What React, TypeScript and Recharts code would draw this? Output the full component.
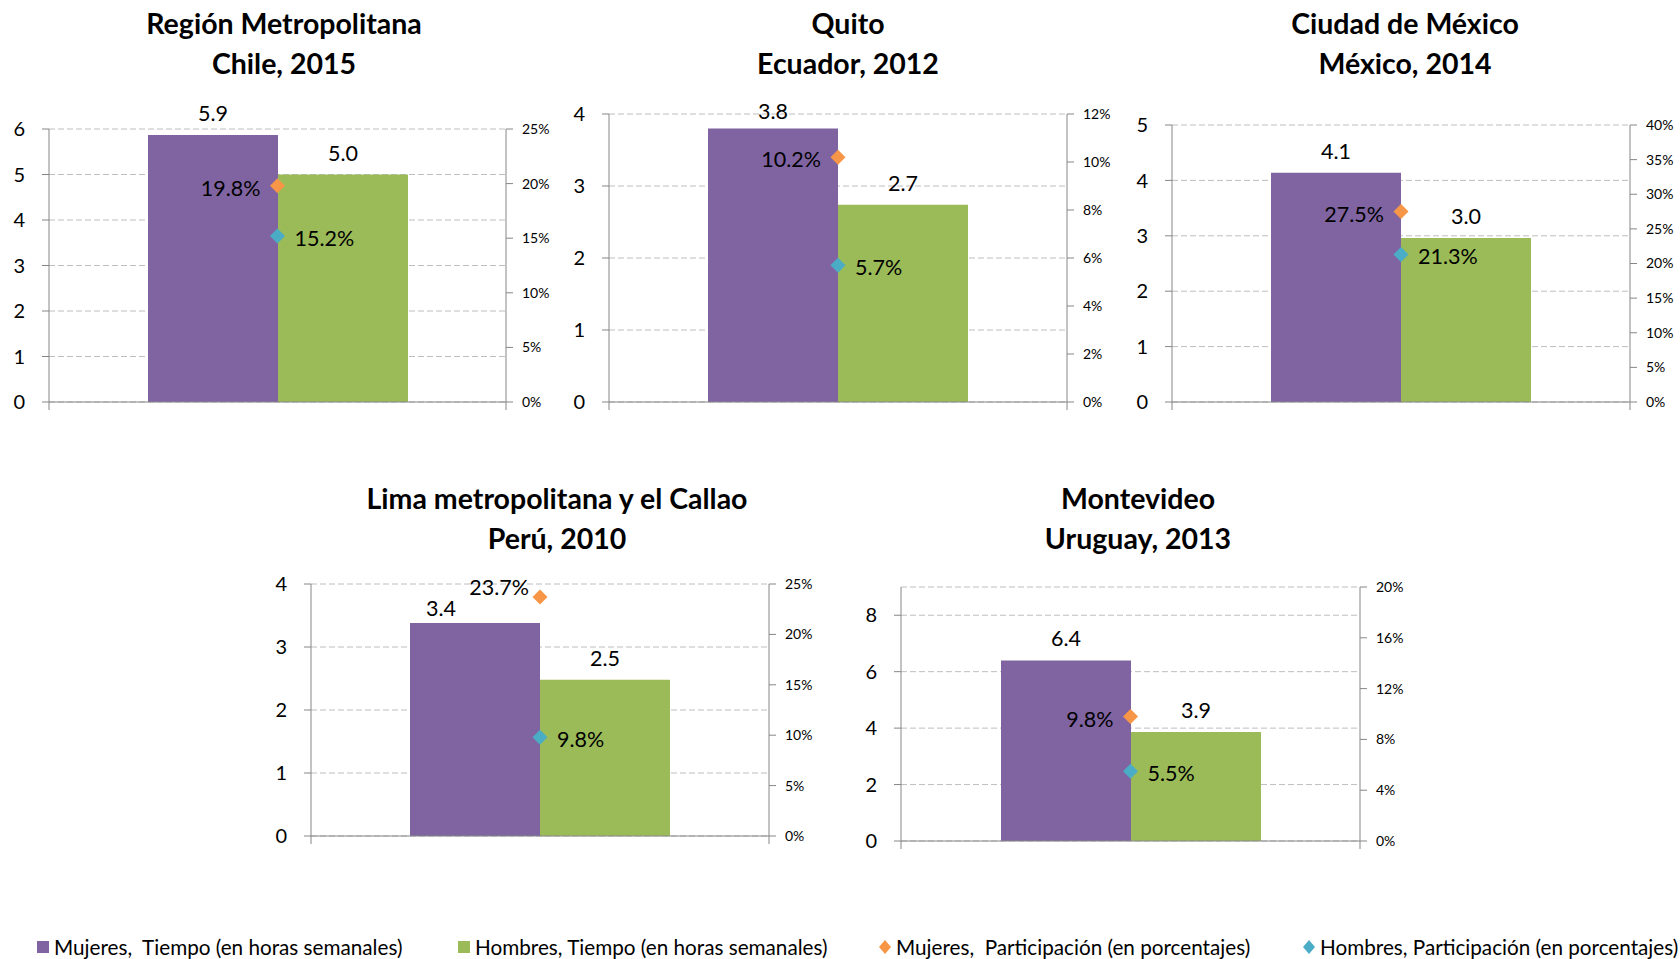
import React from 'react'
import { Bar, ComposedChart, Line, XAxis, YAxis, CartesianGrid, LabelList } from 'recharts'

const regiones = ['Región Metropolitana', 'Quito', 'Ciudad de México', 'Lima metropolitana y el Callao', 'Montevideo']
const paisAnio = ['Chile, 2015', 'Ecuador, 2012', 'México, 2014', 'Perú, 2010', 'Uruguay, 2013']

// horas semanales
const tiempoMujeres = [5.87, 3.8, 4.14, 3.38, 6.4]
const tiempoHombres = [5.0, 2.74, 2.96, 2.48, 3.86]
// porcentajes
const partMujeres = [19.8, 10.2, 27.5, 23.7, 9.8]
const partHombres = [15.2, 5.7, 21.3, 9.8, 5.5]

const tiempoMax = [6, 4, 5, 4, 9]
const tiempoTicks = [
  [0, 1, 2, 3, 4, 5, 6],
  [0, 1, 2, 3, 4],
  [0, 1, 2, 3, 4, 5],
  [0, 1, 2, 3, 4],
  [0, 2, 4, 6, 8],
]
const partMax = [25, 12, 40, 25, 20]
const partTicks = [
  [0, 5, 10, 15, 20, 25],
  [0, 2, 4, 6, 8, 10, 12],
  [0, 5, 10, 15, 20, 25, 30, 35, 40],
  [0, 5, 10, 15, 20, 25],
  [0, 4, 8, 12, 16, 20],
]

const leyenda = [
  'Mujeres,  Tiempo (en horas semanales)',
  'Hombres, Tiempo (en horas semanales)',
  'Mujeres,  Participación (en porcentajes)',
  'Hombres, Participación (en porcentajes)',
]

const MORADO = '#8064A2'
const VERDE = '#9BBB59'
const NARANJA = '#F79646'
const CELESTE = '#4BACC6'
const EJE = '#868686'
const FONT = 'Lato, "Open Sans", sans-serif'

// posiciones de cada panel en la pagina
const paneles = [
  { x0: 49, x1: 506, yTop: 129, yZero: 402, tx: 284, ty: 4 },
  { x0: 609, x1: 1067, yTop: 114, yZero: 402, tx: 848, ty: 4 },
  { x0: 1172, x1: 1630, yTop: 125, yZero: 402, tx: 1405, ty: 4 },
  { x0: 311, x1: 769, yTop: 584, yZero: 836, tx: 557, ty: 479 },
  { x0: 901, x1: 1360, yTop: 587, yZero: 841, tx: 1138, ty: 479 },
]
// ajustes manuales de etiquetas
const ajustes = [
  { mtDx: 0, mtDy: 0, mpDx: 0, mpDy: 0 },
  { mtDx: 0, mtDy: 5, mpDx: 0, mpDy: 0 },
  { mtDx: 0, mtDy: 0, mpDx: 0, mpDy: 0 },
  { mtDx: -34, mtDy: 7, mpDx: 6, mpDy: -12 },
  { mtDx: 0, mtDy: 0, mpDx: 0, mpDy: 0 },
]

const LW = 49
const RW = 60
const TOP = 40
const XH = 20

const diamante = (color: string) => (props: any) => {
  const { cx, cy } = props
  if (cx == null || cy == null) return <g />
  const s = 7.5
  return <path d={`M${cx},${cy - s}L${cx + s},${cy}L${cx},${cy + s}L${cx - s},${cy}Z`} fill={color} />
}

const etiquetaBarra = (dx: number, dy: number) => (props: any) => {
  const { x, y, width, value } = props
  return (
    <text x={x + width / 2 + dx} y={y - 22 + dy} textAnchor="middle" dominantBaseline="central" fontSize={21.5} fill="#000" fontFamily={FONT}>
      {Number(value).toFixed(1)}
    </text>
  )
}

const etiquetaPunto = (lado: 'izq' | 'der', dx: number, dy: number) => (props: any) => {
  const vb = props.viewBox || {}
  const x = props.x ?? vb.x
  const y = props.y ?? vb.y
  const izq = lado === 'izq'
  return (
    <text x={x + (izq ? -17 : 17) + dx} y={y + 2 + dy} textAnchor={izq ? 'end' : 'start'} dominantBaseline="central" fontSize={21.5} fill="#000" fontFamily={FONT}>
      {Number(props.value).toFixed(1)}%
    </text>
  )
}

// marcas del eje de categorias en los bordes de la banda
const marcasBorde = (props: any) => {
  const { x, y, payload, width } = props
  const off = payload && payload.offset ? payload.offset : width / 2
  return (
    <g>
      <line x1={x - off} y1={y} x2={x - off} y2={y + 8} stroke={EJE} />
      <line x1={x + off} y1={y} x2={x + off} y2={y + 8} stroke={EJE} />
    </g>
  )
}

function Panel({ i }: { i: number }) {
  const p = paneles[i]
  const a = ajustes[i]
  const data = [{ cat: regiones[i], mt: tiempoMujeres[i], ht: tiempoHombres[i], mp: partMujeres[i], hp: partHombres[i] }]
  const width = LW + (p.x1 - p.x0) + RW
  const height = TOP + (p.yZero - p.yTop) + XH
  return (
    <>
      <div style={{ position: 'absolute', left: p.tx - 300, top: p.ty, width: 600, textAlign: 'center', fontWeight: 700, fontSize: 28.5, lineHeight: '39.5px', color: '#000' }}>
        <div>{regiones[i]}</div>
        <div>{paisAnio[i]}</div>
      </div>
      <div style={{ position: 'absolute', left: p.x0 - LW, top: p.yTop - TOP }}>
        <ComposedChart width={width} height={height} data={data} margin={{ top: TOP, right: 0, bottom: 0, left: 0 }} barGap={0}>
          <CartesianGrid xAxisId="cat" yAxisId="t" vertical={false} stroke="#bebebe" strokeDasharray="6 3" />
          <XAxis xAxisId="cat" dataKey="cat" height={XH} stroke={EJE} tickLine={false} tickSize={0} tickMargin={0} tick={marcasBorde} interval={0} />
          <YAxis
            yAxisId="t"
            orientation="left"
            width={LW}
            domain={[0, tiempoMax[i]]}
            ticks={tiempoTicks[i]}
            interval={0}
            tickSize={7}
            tickMargin={17}
            stroke={EJE}
            tick={{ fill: '#000', fontSize: 20, fontFamily: FONT }}
          />
          <YAxis
            yAxisId="p"
            orientation="right"
            width={RW}
            domain={[0, partMax[i]]}
            ticks={partTicks[i]}
            interval={0}
            tickSize={7}
            tickMargin={9}
            stroke={EJE}
            tickFormatter={(v) => `${v}%`}
            tick={{ fill: '#000', fontSize: 14, fontFamily: FONT }}
          />
          <Bar xAxisId="cat" yAxisId="t" dataKey="mt" fill={MORADO} barSize={130} isAnimationActive={false}>
            <LabelList dataKey="mt" content={etiquetaBarra(a.mtDx, a.mtDy)} />
          </Bar>
          <Bar xAxisId="cat" yAxisId="t" dataKey="ht" fill={VERDE} barSize={130} isAnimationActive={false}>
            <LabelList dataKey="ht" content={etiquetaBarra(0, 0)} />
          </Bar>
          <Line xAxisId="cat" yAxisId="p" dataKey="mp" stroke="none" dot={diamante(NARANJA)} activeDot={false} isAnimationActive={false}>
            <LabelList dataKey="mp" content={etiquetaPunto('izq', a.mpDx, a.mpDy)} />
          </Line>
          <Line xAxisId="cat" yAxisId="p" dataKey="hp" stroke="none" dot={diamante(CELESTE)} activeDot={false} isAnimationActive={false}>
            <LabelList dataKey="hp" content={etiquetaPunto('der', 0, 0)} />
          </Line>
        </ComposedChart>
      </div>
    </>
  )
}

const marcaLeyenda = [
  { left: 35, color: MORADO, forma: 'cuadro' },
  { left: 456, color: VERDE, forma: 'cuadro' },
  { left: 877, color: NARANJA, forma: 'rombo' },
  { left: 1301, color: CELESTE, forma: 'rombo' },
]

export default function App() {
  return (
    <div style={{ position: 'absolute', left: 0, top: 0, width: 1680, height: 959, background: '#fff', fontFamily: FONT, overflow: 'hidden' }}>
      {regiones.map((_, i) => (
        <Panel key={i} i={i} />
      ))}
      {leyenda.map((t, i) => {
        const m = marcaLeyenda[i]
        return (
          <div key={t} style={{ position: 'absolute', left: m.left, top: 934, height: 26, display: 'flex', alignItems: 'center', whiteSpace: 'pre', fontSize: 20.7, color: '#000' }}>
            <svg width={16} height={16} style={{ marginRight: 3 }}>
              {m.forma === 'cuadro' ? (
                <rect x={2} y={2} width={12} height={12} fill={m.color} />
              ) : (
                <path d="M8,1L14,8L8,15L2,8Z" fill={m.color} />
              )}
            </svg>
            <span>{t}</span>
          </div>
        )
      })}
    </div>
  )
}
